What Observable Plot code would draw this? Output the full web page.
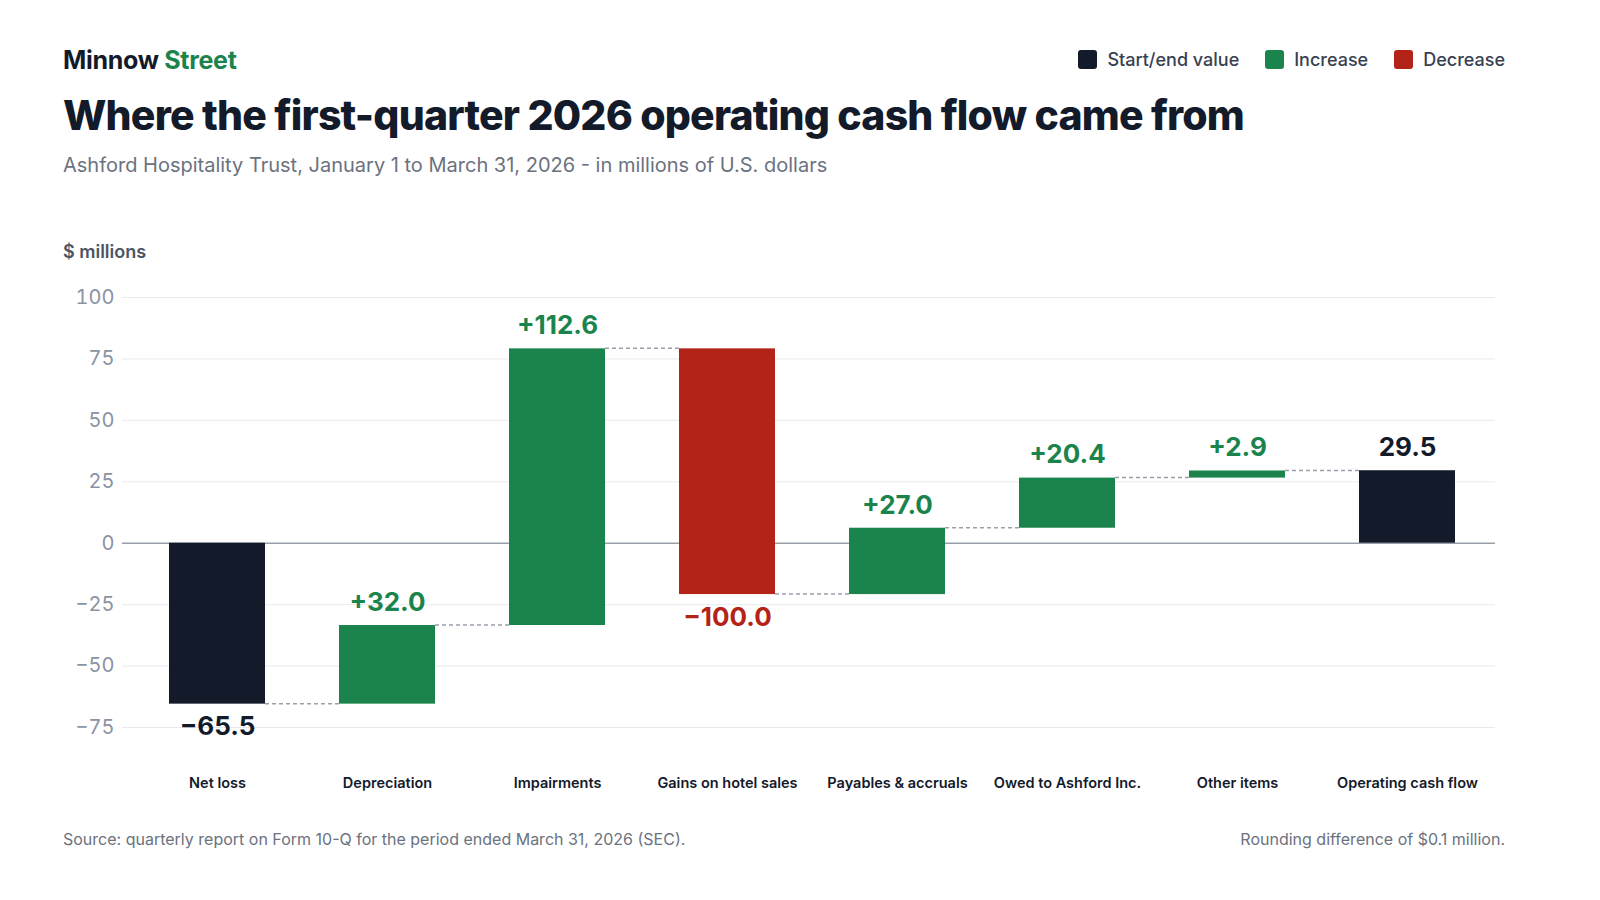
<!DOCTYPE html>
<html><head><meta charset="utf-8">
<script src="https://cdn.jsdelivr.net/npm/d3@7"></script>
<script src="https://cdn.jsdelivr.net/npm/@observablehq/plot@0.6"></script>
<style>
body{margin:0;width:1600px;height:900px;background:#fff;font-family:Inter,sans-serif;position:relative;overflow:hidden}
.abs{position:absolute}
#brand{left:63px;top:45px;font-size:25px;font-weight:700;color:#131a2a;letter-spacing:-0.3px}
#brand span{color:#1b844d}
#title{left:63px;top:90px;font-size:41px;font-weight:800;color:#131a2a;letter-spacing:-0.8px}
#sub{left:63px;top:153px;font-size:20px;color:#6b7280}
#unit{left:63px;top:241px;font-size:18px;font-weight:600;color:#4b5563}
#legend{right:95px;top:49px;display:flex;gap:26px;font-size:18px;font-weight:500;color:#374151}
#legend div{display:flex;align-items:center;gap:10px}
#legend i{display:inline-block;width:19px;height:19px;border-radius:3px}
#src{left:63px;top:829px;font-size:16px;color:#6b7280}
#note{right:95px;top:829px;font-size:16px;color:#6b7280}
#chart{left:0;top:270px}
</style></head><body>
<div class="abs" id="brand">Minnow <span>Street</span></div>
<div class="abs" id="legend"><div><i style="background:#131a2a"></i>Start/end value</div><div><i style="background:#1b844d"></i>Increase</div><div><i style="background:#b42318"></i>Decrease</div></div>
<div class="abs" id="title">Where the first-quarter 2026 operating cash flow came from</div>
<div class="abs" id="sub">Ashford Hospitality Trust, January 1 to March 31, 2026 - in millions of U.S. dollars</div>
<div class="abs" id="unit">$ millions</div>
<div class="abs" id="chart"></div>
<div class="abs" id="src">Source: quarterly report on Form 10-Q for the period ended March 31, 2026 (SEC).</div>
<div class="abs" id="note">Rounding difference of $0.1 million.</div>
<script>
const categories = ["Net loss","Depreciation","Impairments","Gains on hotel sales","Payables & accruals","Owed to Ashford Inc.","Other items","Operating cash flow"];
const values = [-65.5, 32.0, 112.6, -100.0, 27.0, 20.4, 2.9, 29.5];
const kinds = ["total","step","step","step","step","step","step","total"];
const yTicks = [-75,-50,-25,0,25,50,75,100];
const labels = ["\u221265.5","+32.0","+112.6","\u2212100.0","+27.0","+20.4","+2.9","29.5"];

const colors = {total:"#131a2a", inc:"#1b844d", dec:"#b42318"};
let cum = 0;
const rows = categories.map((c,i)=>{
  let y1,y2,type;
  if (kinds[i]==="total"){ y1=0; y2=values[i]; type="total"; cum=values[i]; }
  else { y1=cum; y2=cum+values[i]; cum=y2; type=values[i]>=0?"inc":"dec"; }
  const top = Math.max(y1,y2), bot=Math.min(y1,y2);
  const up = !(values[i]<0);
  return {c, y1, y2, type, label:labels[i], ly: up?top:bot, up, end:y2};
});
const conns = rows.slice(0,-1).map((r,i)=>({a:r.c,b:rows[i+1].c,y:r.end}));
const fmt = d=>d<0?"\u2212"+Math.abs(d):d;

const chart = Plot.plot({
  width:1600, height:530, marginLeft:122, marginRight:105, marginTop:27, marginBottom:73,
  style:{fontFamily:"Inter, sans-serif", overflow:"visible"},
  x:{domain:categories, range:[126,1498], paddingInner:0.437, paddingOuter:0.25, axis:null},
  y:{domain:[-75,100], axis:null},
  marks:[
    Plot.ruleY(yTicks.filter(d=>d!==0),{stroke:"#e9eaee",strokeWidth:1}),
    Plot.axisY({ticks:yTicks, tickSize:0, tickPadding:8, fontSize:20, fill:"#8a93a3", label:null, tickFormat:fmt}),
    Plot.ruleY([0],{stroke:"#9aa0aa",strokeWidth:1.5}),
    Plot.barY(rows,{x:"c",y1:"y1",y2:"y2",fill:d=>colors[d.type]}),
    Plot.text(rows.filter(d=>d.up),{x:"c",y:"ly",text:"label",dy:-23,fontSize:26,fontWeight:700,fill:d=>colors[d.type]}),
    Plot.text(rows.filter(d=>!d.up),{x:"c",y:"ly",text:"label",dy:23,fontSize:26,fontWeight:700,fill:d=>colors[d.type]}),
    Plot.text(categories,{x:d=>d,y:()=>-75,dy:56,fontSize:14.5,fontWeight:600,fill:"#131a2a"})
  ]
});
const sx = chart.scale("x"), sy = chart.scale("y");
const svg = d3.select(chart);
const bw = sx.bandwidth;
const g = svg.insert("g","g[aria-label=bar]");
conns.forEach(k=>{
  const x1 = sx.apply(k.a)+bw, x2 = sx.apply(k.b), y = sy.apply(k.y);
  g.append("line").attr("x1",x1).attr("x2",x2).attr("y1",y).attr("y2",y)
   .attr("stroke","#9aa0aa").attr("stroke-width",1.5).attr("stroke-dasharray","4,3");
});
document.getElementById("chart").appendChild(chart);
</script>
</body></html>
